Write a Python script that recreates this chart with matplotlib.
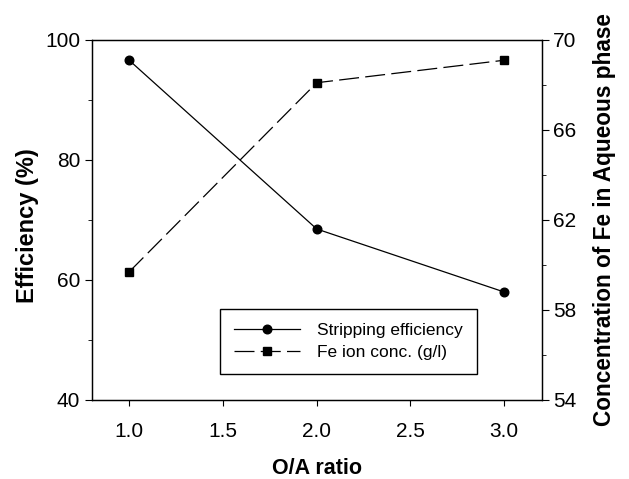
import numpy as np
import matplotlib
matplotlib.use('Agg')
import matplotlib.pyplot as plt
from matplotlib.ticker import MultipleLocator

plt.rcParams['font.family'] = ['Liberation Sans', 'DejaVu Sans']

# данные
ratio = [1.0, 2.0, 3.0]
efficiency = [96.6, 68.5, 58.0]
fe_conc = [59.7, 68.1, 69.1]

fig = plt.figure(figsize=(6.29, 4.79), dpi=100)
ax = fig.add_axes([0.146, 0.165, 0.715, 0.7515])
ax2 = ax.twinx()

l1, = ax.plot(ratio, efficiency, color='black', lw=0.9, marker='o', ms=6.2,
              label='Stripping efficiency')
l2, = ax2.plot(ratio, fe_conc, color='black', lw=0.9, marker='s', ms=5.2,
               dashes=(16, 5), label='Fe ion conc. (g/l)')

ax.set_xlim(0.8, 3.2)
ax.set_ylim(40, 100)
ax2.set_ylim(54, 70)
ax.set_xticks([1.0, 1.5, 2.0, 2.5, 3.0])
ax.set_xticklabels(['1.0', '1.5', '2.0', '2.5', '3.0'])
ax.set_yticks([40, 60, 80, 100])
ax.yaxis.set_minor_locator(MultipleLocator(10))
ax2.set_yticks([54, 58, 62, 66, 70])
ax2.yaxis.set_minor_locator(MultipleLocator(2))

for a in (ax, ax2):
    a.tick_params(which='major', direction='out', length=5, width=0.8, labelsize=15)
    a.tick_params(which='minor', direction='out', length=3, width=0.6)
    for s in a.spines.values():
        s.set_linewidth(0.9)
ax.tick_params(axis='x', length=4, pad=12)

ax.set_xlabel('O/A ratio', fontsize=15.5, fontweight='bold', labelpad=12)
ax.set_ylabel('Efficiency (%)', fontsize=17, fontweight='bold', labelpad=4)
ax.yaxis.label.set_y(0.485)
ax2.set_ylabel('Concentration of Fe in Aqueous phase', fontsize=16.3,
               fontweight='bold', labelpad=12)

ax.legend(handles=[l1, l2], loc='upper left', bbox_to_anchor=(0.285, 0.253),
          borderaxespad=0, fontsize=12.5, frameon=True, fancybox=False,
          edgecolor='black', framealpha=1, borderpad=0.8, handlelength=3.8,
          handletextpad=1.0, labelspacing=0.4)

plt.savefig('out.png', dpi=100)
